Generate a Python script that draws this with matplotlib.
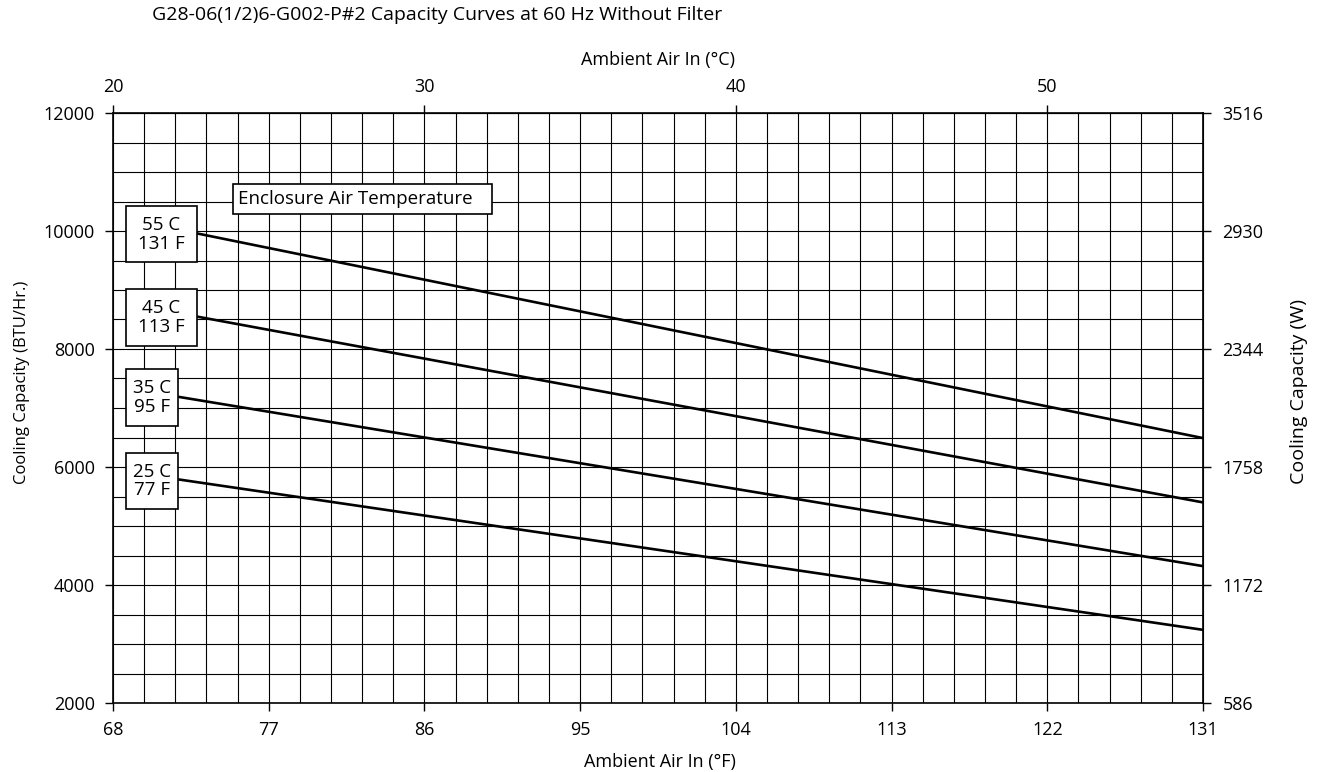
import matplotlib
matplotlib.use("Agg")
import matplotlib.pyplot as plt
import numpy as np
from matplotlib.patches import Rectangle

plt.rcParams['font.family'] = ['Open Sans', 'DejaVu Sans']

# ---- data ----
labels_c = ['55 C', '45 C', '35 C', '25 C']
labels_f = ['131 F', '113 F', '95 F', '77 F']
start_f = [72.84, 72.84, 71.77, 71.77]
start_btu = [9960, 8550, 7190, 5790]
end_f = [131, 131, 131, 131]
end_btu = [6490, 5400, 4320, 3240]
box_top = [10424, 9012, 7656, 6242]
box_bottom = [9469, 8056, 6695, 5288]

xticks_f = [68, 77, 86, 95, 104, 113, 122, 131]
yticks_btu = [2000, 4000, 6000, 8000, 10000, 12000]
xticks_c = [20, 30, 40, 50]
yticks_w = [586, 1172, 1758, 2344, 2930, 3516]

W, H = 1327, 772
fig = plt.figure(figsize=(W/100, H/100), dpi=100)
ax = fig.add_axes([113/W, 1-703/H, 1090/W, 590/H])
ax.set_xlim(68, 131)
ax.set_ylim(2000, 12000)

ax.set_xticks(xticks_f)
ax.set_yticks(yticks_btu)
ax.set_xticks(np.arange(68, 131.01, 1.8), minor=True)
ax.set_yticks(np.arange(2000, 12001, 500), minor=True)
ax.tick_params(which='minor', length=0)
ax.tick_params(which='major', direction='out', length=6, width=1, labelsize=13, pad=7)
ax.grid(which='both', color='black', lw=0.8)
ax.set_axisbelow(True)
for s in ax.spines.values():
    s.set_linewidth(1.2)

f2c = lambda f: (f - 32) / 1.8
c2f = lambda c: c * 1.8 + 32
top = ax.secondary_xaxis('top', functions=(f2c, c2f))
top.set_xticks(xticks_c)
top.tick_params(direction='out', length=6, width=1, labelsize=13, pad=6)

b2w = lambda b: b * 0.293
w2b = lambda w: w / 0.293
right = ax.secondary_yaxis('right', functions=(b2w, w2b))
right.set_yticks(yticks_w)
right.tick_params(direction='out', length=6, width=1, labelsize=13, pad=8)

fig.text(660/W, 1 - 762/H, 'Ambient Air In (°F)', ha='center', va='center', fontsize=13)
fig.text(658/W, 1 - 60/H, 'Ambient Air In (°C)', ha='center', va='center', fontsize=13)
fig.text(22/W, 1 - 382/H, 'Cooling Capacity (BTU/Hr.)', ha='center', va='center',
         rotation=90, fontsize=12)
fig.text(1299/W, 1 - 392/H, 'Cooling Capacity (W)', ha='center', va='center',
         rotation=90, fontsize=14)

for i in range(4):
    ax.plot([start_f[i], end_f[i]], [start_btu[i], end_btu[i]], color='black', lw=1.9, zorder=3,
            solid_capstyle='butt')
    x0 = 68.75
    rect = Rectangle((x0, box_bottom[i]), start_f[i] - x0, box_top[i] - box_bottom[i],
                     facecolor='white', edgecolor='black', lw=1.2, zorder=4)
    ax.add_patch(rect)
    ax.text((x0 + start_f[i]) / 2, (box_top[i] + box_bottom[i]) / 2,
            labels_c[i] + '\n' + labels_f[i], ha='center', va='center',
            fontsize=13.5, zorder=5, linespacing=1.05)

ax.add_patch(Rectangle((74.95, 10280), 89.88 - 74.95, 10790 - 10280,
                       facecolor='white', edgecolor='black', lw=1.2, zorder=4))
ax.text(75.25, 10535, 'Enclosure Air Temperature', ha='left', va='center', fontsize=13.5, zorder=5)

fig.text(152/W, 1 - 15/H, 'G28-06(1/2)6-G002-P#2 Capacity Curves at 60 Hz Without Filter',
         ha='left', va='center', fontsize=14)

fig.savefig('out.png', dpi=100, facecolor='white')
